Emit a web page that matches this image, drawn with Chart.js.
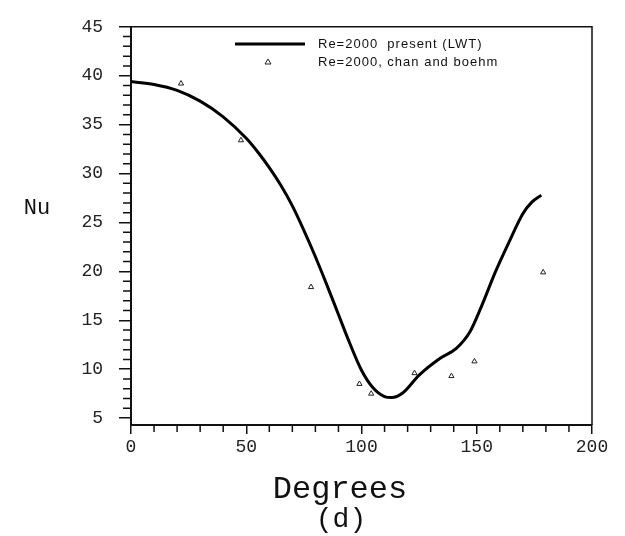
<!DOCTYPE html>
<html>
<head>
<meta charset="utf-8">
<script src="https://cdn.jsdelivr.net/npm/chart.js@4/dist/chart.umd.min.js"></script>
<style>
  html, body { margin: 0; padding: 0; background: #fff; }
  #wrap { width: 625px; height: 536px; }
</style>
</head>
<body>
<div id="wrap"><canvas id="c" width="625" height="536"></canvas></div>
<script>
// present (LWT) curve
const curveX = [0, 10, 20, 30, 40, 50, 55, 60, 65, 70, 75, 80, 85, 90, 95, 100, 105, 110, 113, 118, 125, 134, 141, 147, 152, 158, 164, 170, 174, 178];
const curveY = [39.4, 39.1, 38.5, 37.4, 35.8, 33.6, 32.2, 30.6, 28.8, 26.7, 24.2, 21.5, 18.6, 15.6, 12.6, 9.9, 8.1, 7.2, 7.1, 7.6, 9.4, 11.1, 12.1, 13.8, 16.4, 19.9, 23.0, 25.9, 27.1, 27.8];
// chan and boehm points
const refX = [21.7, 47.7, 78.1, 99.1, 104.2, 123, 139, 149, 178.8];
const refY = [39.2, 33.4, 18.4, 8.5, 7.5, 9.6, 9.3, 10.8, 19.9];
const yTicks = [5, 10, 15, 20, 25, 30, 35, 40, 45];
const xTicks = [0, 50, 100, 150, 200];
const legendLabels = ['Re=2000  present (LWT)', 'Re=2000, chan and boehm'];

const mono = 'Liberation Mono, Courier New, monospace';

// extra drawing: box, minor ticks, axis titles, legend
const decor = {
    id: 'decor',
    afterDraw(chart) {
        const ctx = chart.ctx;
        const a = chart.chartArea;
        const xs = chart.scales.x, ys = chart.scales.y;
        ctx.save();
        ctx.strokeStyle = '#111';
        ctx.lineWidth = 1.5;
        ctx.beginPath();
        ctx.moveTo(a.left, a.top); ctx.lineTo(a.right, a.top); ctx.lineTo(a.right, a.bottom);
        ctx.stroke();

        // minor ticks
        ctx.beginPath();
        for (let v = 5; v <= 45; v++) {
            if (v % 5 === 0) continue;
            const py = ys.getPixelForValue(v);
            ctx.moveTo(a.left - 8, py); ctx.lineTo(a.left, py);
        }
        for (let v = 10; v < 200; v += 10) {
            if (v % 50 === 0) continue;
            const px = xs.getPixelForValue(v);
            ctx.moveTo(px, a.bottom); ctx.lineTo(px, a.bottom + 7);
        }
        ctx.stroke();

        // axis titles
        ctx.fillStyle = '#111';
        ctx.textAlign = 'center';
        ctx.textBaseline = 'middle';
        ctx.font = '22px ' + mono;
        ctx.fillText('Nu', 37, 208);
        ctx.font = '32px ' + mono;
        ctx.fillText('Degrees', 340, 490);
        ctx.font = '28px ' + mono;
        ctx.fillText('(d)', 341, 520);

        // legend
        const lx = 235, ly = 44;
        ctx.strokeStyle = '#000';
        ctx.lineWidth = 3;
        ctx.beginPath();
        ctx.moveTo(lx, ly); ctx.lineTo(lx + 70, ly);
        ctx.stroke();
        ctx.lineWidth = 1;
        ctx.strokeStyle = '#222';
        ctx.beginPath();
        ctx.moveTo(268, 59); ctx.lineTo(271, 64); ctx.lineTo(265, 64); ctx.closePath();
        ctx.stroke();
        ctx.textAlign = 'left';
        ctx.font = '13px Liberation Sans, Arial, sans-serif';
        ctx.letterSpacing = '1px';
        ctx.fillText(legendLabels[0], 318, ly);
        ctx.fillText(legendLabels[1], 318, 62);
        ctx.restore();
    }
};

const chart = new Chart(document.getElementById('c'), {
    type: 'line',
    data: {
        datasets: [{
            data: curveX.map((x, i) => ({ x: x, y: curveY[i] })),
            borderColor: '#000',
            borderWidth: 3,
            pointRadius: 0,
            cubicInterpolationMode: 'monotone',
            fill: false
        }, {
            data: refX.map((x, i) => ({ x: x, y: refY[i] })),
            showLine: false,
            pointStyle: 'triangle',
            pointRadius: 3,
            borderWidth: 1,
            borderColor: '#222',
            backgroundColor: '#fff'
        }]
    },
    options: {
        responsive: false,
        animation: false,
        layout: { padding: { top: 16, right: 33, left: 0, bottom: 0 } },
        plugins: {
            legend: { display: false },
            tooltip: { enabled: false }
        },
        scales: {
            x: {
                type: 'linear',
                min: 0,
                max: 200,
                afterBuildTicks: s => { s.ticks = xTicks.map(v => ({ value: v })); },
                afterFit: s => { s.height = 111; },
                grid: { drawOnChartArea: false, drawTicks: true, tickLength: 9, color: '#111', lineWidth: 1.5 },
                border: { color: '#111', width: 2 },
                ticks: { color: '#222', font: { family: mono, size: 18 }, padding: 2, maxRotation: 0 }
            },
            y: {
                type: 'linear',
                min: 4.3,
                max: 45,
                afterBuildTicks: s => { s.ticks = yTicks.map(v => ({ value: v })); },
                afterFit: s => { s.width = 131; },
                grid: { drawOnChartArea: false, drawTicks: true, tickLength: 12, color: '#111', lineWidth: 1.5 },
                border: { color: '#111', width: 2 },
                ticks: { color: '#222', font: { family: mono, size: 18 }, padding: 16 }
            }
        }
    },
    plugins: [decor]
});
</script>
</body>
</html>
